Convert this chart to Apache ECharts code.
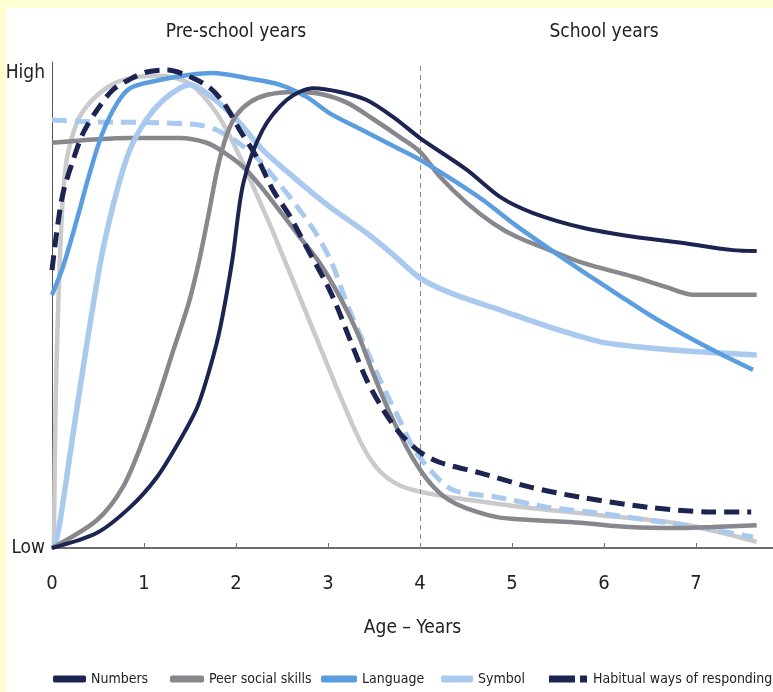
<!DOCTYPE html>
<html>
<head>
<meta charset="utf-8">
<script src="https://cdn.jsdelivr.net/npm/echarts@6/dist/echarts.min.js"></script>
<style>
  html, body { margin: 0; padding: 0; background: #fffed0; }
  #chart { width: 773px; height: 692px; }
</style>
</head>
<body>
<div id="chart"></div>
<script>
// Age in years on x, sensitivity level (0 = Low, 100 = High) on y.
const ageTicks = [0, 1, 2, 3, 4, 5, 6, 7];
const levelTicks = [0, 100];
const levelTickLabels = ['Low', 'High'];
const phaseTicks = [2, 6];
const phaseLabels = ['Pre-school years', 'School years'];
const schoolStart = 4;

const numbers = [[0,0],[0.49,3.2],[0.85,8.6],[1.14,14.9],[1.39,22.7],[1.58,29.7],[1.72,38.1],[1.83,46.5],[1.96,60.6],[2.08,76.8],[2.29,88.0],[2.55,94.3],[2.84,96.8],[3.13,96.0],[3.42,94.3],[3.71,90.7],[4.0,86.3],[4.51,79.6],[4.87,73.9],[5.23,70.5],[5.77,67.4],[6.32,65.5],[6.86,64.2],[7.40,62.7],[7.66,62.5]];

const peerSocial = [[0,0],[0.49,5.9],[0.77,12.8],[0.99,22.7],[1.17,32.6],[1.32,41.7],[1.42,47.5],[1.5,52.5],[1.6,60.5],[1.7,70],[1.8,80],[1.9,87],[2.0,91],[2.15,93.8],[2.34,95.4],[2.62,96.0],[2.91,95.6],[3.21,93.7],[3.49,90.3],[3.78,86.5],[4.0,83.4],[4.22,78.1],[4.51,72.6],[4.79,68.4],[5.05,65.5],[5.41,62.7],[5.77,60.0],[6.32,57.1],[6.68,54.9],[6.97,53.3],[7.66,53.3]];

const peerSocialEarly = [[0,85.3],[0.85,86.3],[1.39,86.3],[1.68,85.3],[1.86,83.4],[2.08,80.2],[2.29,75.6],[2.51,70.1],[2.7,65.3],[2.91,60.0],[3.13,52.8],[3.32,45.3],[3.49,36.8],[3.67,28.5],[3.86,21],[4.0,16.5],[4.15,12.8],[4.3,10.3],[4.5,8.4],[4.84,6.5],[5.2,5.9],[5.74,5.3],[6.28,4.4],[6.83,4.2],[7.18,4.4],[7.66,4.8]];

const peerSocialFaint = [[0.02,0],[0.04,31.2],[0.07,52.2],[0.11,71.2],[0.16,81.7],[0.27,89.5],[0.41,93.7],[0.63,97.3],[0.85,98.9],[1.17,99.4],[1.5,97.7],[1.79,91.5],[2.04,82.5],[2.2,75.5],[2.37,68],[2.53,60.5],[2.7,52.5],[2.91,42.5],[3.1,33.5],[3.3,24.5],[3.45,19],[3.6,15.5],[3.8,13],[4.11,11.4],[4.54,10.1],[5.2,8.4],[5.96,6.9],[6.83,5.1],[7.66,1.3]];

const language = [[0,53.3],[0.12,59.2],[0.27,69.1],[0.41,78.9],[0.55,87.4],[0.71,93.7],[0.85,96.8],[1.07,98.1],[1.5,99.6],[1.75,100],[2.12,98.9],[2.48,97.5],[2.77,94.9],[3.02,91.5],[3.35,88.2],[3.71,84.6],[4.0,81.7],[4.33,77.8],[4.68,73.3],[5.05,67.8],[5.41,62.9],[5.77,58.2],[6.14,53.5],[6.5,49.0],[6.86,45.0],[7.23,41.2],[7.62,37.5]];

const symbol = [[0.03,0],[0.09,5.9],[0.23,24.2],[0.34,38.1],[0.45,51.5],[0.55,62.5],[0.71,75.5],[0.85,84],[1.03,90.3],[1.21,94.3],[1.39,96.8],[1.5,97.5],[1.75,94.7],[2.01,90.1],[2.29,83.8],[2.66,77.5],[3.02,71.8],[3.42,66.3],[3.71,61.7],[4.0,56.8],[4.33,53.7],[4.87,50.1],[5.41,46.5],[5.96,43.4],[6.5,42.1],[7.04,41.3],[7.66,40.6]];

const habitual = [[0,58.5],[0.05,66.3],[0.12,74.7],[0.23,81.7],[0.34,87.4],[0.49,92.2],[0.66,96.4],[0.85,98.7],[1.03,100.2],[1.25,100.6],[1.5,99.2],[1.72,96.8],[1.88,93.3],[2.04,88.0],[2.23,82.1],[2.4,75.4],[2.59,69.7],[2.77,63.2],[2.99,55.4],[3.1,50.7],[3.24,43.8],[3.42,35.4],[3.6,29.1],[3.78,24.2],[4.0,20.2],[4.22,18.0],[4.65,15.8],[5.2,12.8],[5.74,10.7],[6.47,8.6],[7.18,7.6],[7.6,7.6]];

const habitualLight = [[0,90.1],[0.49,89.7],[1.21,89.5],[1.58,89.1],[1.79,88.0],[2.01,85.5],[2.23,82.1],[2.45,77.1],[2.66,72.0],[2.88,65.9],[3.05,59.6],[3.21,51.2],[3.42,41.7],[3.6,33.9],[3.78,26.9],[3.92,21.3],[4.11,16.4],[4.36,12.2],[4.84,10.7],[5.38,8.6],[5.92,7.4],[6.47,5.9],[7.01,4.4],[7.62,2.3]];

const FONT = "'DejaVu Sans Condensed','Liberation Sans Narrow','Liberation Sans',sans-serif";

const NAVY = '#1c2451';
const GREY = '#87888d';
const FAINT_GREY = '#cacacd';
const BLUE = '#5c9ddf';
const PALE_BLUE = '#a9c9ee';

function curve(name, data, color, width, z, dashed) {
  return {
    name: name,
    type: 'line',
    data: data,
    smooth: 0.3,
    symbol: 'none',
    z: z,
    lineStyle: {
      color: color,
      width: width,
      type: dashed ? [15, 8] : 'solid',
      cap: 'butt'
    },
    itemStyle: { color: color },
    emphasis: { disabled: true }
  };
}

// One legend block per entry so each swatch sits at its own spot on the bottom row.
const legendSlots = [
  { name: 'Numbers', left: 53, width: 33, icon: 'roundRect' },
  { name: 'Peer social skills', left: 170, width: 34, icon: 'roundRect' },
  { name: 'Language', left: 321, width: 36, icon: 'roundRect' },
  { name: 'Symbol', left: 441, width: 32, icon: 'roundRect' },
  { name: 'Habitual ways of responding', left: 549, width: 40, icon: 'path://M0,0H26V7H0Z M31,0H38V7H31Z' }
];

const legends = legendSlots.map(function (s) {
  return {
    data: [{ name: s.name, icon: s.icon }],
    left: s.left,
    top: 672,
    padding: 0,
    itemWidth: s.width,
    itemHeight: 7,
    itemStyle: { borderWidth: 0 },
    textStyle: { fontFamily: FONT, fontSize: 14, color: '#222' }
  };
});

const chart = echarts.init(document.getElementById('chart'), null, { renderer: 'canvas' });

chart.setOption({
  animation: false,
  backgroundColor: '#fffed0',
  graphic: [{
    type: 'rect',
    left: 6, top: 8,
    shape: { width: 767, height: 684 },
    style: { fill: '#ffffff' },
    z: -10,
    silent: true
  }],
  grid: { left: 52, right: 0, top: 62, bottom: 144, containLabel: false },
  legend: legends,
  xAxis: [{
    type: 'value',
    min: 0,
    max: 7.837,
    name: 'Age \u2013 Years',
    nameLocation: 'middle',
    nameGap: 71,
    nameTextStyle: { fontFamily: FONT, fontSize: 19, color: '#222' },
    axisLine: { show: true, lineStyle: { color: '#6d6d6d', width: 2 } },
    axisTick: { show: true, inside: true, length: 5, customValues: ageTicks, lineStyle: { color: '#6d6d6d', width: 1 } },
    axisLabel: { customValues: ageTicks, margin: 26, fontFamily: FONT, fontSize: 20, color: '#222' },
    splitLine: { show: false }
  }, {
    type: 'value',
    position: 'top',
    min: 0,
    max: 7.837,
    axisLine: { show: false },
    axisTick: { show: false },
    splitLine: { show: false },
    axisLabel: {
      customValues: phaseTicks,
      margin: 20,
      fontFamily: FONT,
      fontSize: 19,
      color: '#222',
      formatter: function (v) { return phaseLabels[phaseTicks.indexOf(v)]; }
    }
  }],
  yAxis: {
    type: 'value',
    min: 0,
    max: 102.3,
    axisLine: { show: true, lineStyle: { color: '#555', width: 1 } },
    axisTick: { show: false },
    splitLine: { show: false },
    axisLabel: {
      customValues: levelTicks,
      margin: 7,
      fontFamily: FONT,
      fontSize: 19,
      color: '#222',
      formatter: function (v) { return levelTickLabels[levelTicks.indexOf(v)]; }
    }
  },
  series: [
    curve('Numbers', numbers, NAVY, 4, 9, false),
    curve('Peer social skills', peerSocial, GREY, 4.5, 6, false),
    curve('Language', language, BLUE, 4.5, 7, false),
    curve('Symbol', symbol, PALE_BLUE, 5.5, 5, false),
    curve('Habitual ways of responding', habitual, NAVY, 5, 8, true),
    curve('Peer social skills', peerSocialEarly, GREY, 4.5, 4, false),
    curve('Peer social skills', peerSocialFaint, FAINT_GREY, 4.5, 2, false),
    curve('Habitual ways of responding', habitualLight, PALE_BLUE, 5, 3, true),
    {
      name: 'school-start',
      type: 'line',
      data: [],
      markLine: {
        silent: true,
        symbol: 'none',
        label: { show: false },
        lineStyle: { color: '#8a8a8a', width: 1, type: [5, 4] },
        data: [{ xAxis: schoolStart }]
      }
    }
  ]
});
</script>
</body>
</html>
